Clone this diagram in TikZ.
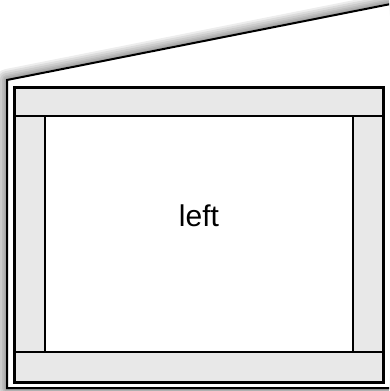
\documentclass[tikz,border=0pt]{standalone}
\usepackage{fontspec}
\setmainfont{Liberation Sans}
\tikzset{
  band/.style={fill=bandgray, draw=black, line width=2.2pt},
  frameline/.style={draw=black, line width=3pt},
  outerline/.style={draw=black, line width=2pt, line join=miter},
  shadowline/.style={draw=black, opacity=0.07, line join=round}
}
\definecolor{bandgray}{HTML}{E8E8E8}
\begin{document}
\begin{tikzpicture}[x=1pt,y=-1pt]
\useasboundingbox (0,0) rectangle (389,391);
\clip (0,0) rectangle (389,391);
% outer polygon points
\coordinate (A) at (7,80);
\coordinate (B) at (423,-2.4);
\coordinate (C) at (7,388);
\coordinate (D) at (420,388);
% shadow
\foreach \w in {22,18,14,10,7,4} {
  \draw[shadowline, line width=\w pt, shift={(-2,-3)}] (B) -- (A) -- (C) -- (D);
}
\fill[white] (B) -- (A) -- (C) -- (D) -- (430,0) -- cycle;
\draw[outerline] (B) -- (A) -- (C) -- (D);
% inner frame
\fill[white] (14,87) rectangle (383,382);
\draw[band] (14,87) rectangle (383,116);
\draw[band] (14,352) rectangle (383,382);
\draw[band] (14,116) rectangle (45,352);
\draw[band] (353,116) rectangle (383,352);
\draw[frameline] (14,87) rectangle (383,382);
\node[font=\fontsize{30}{36}\selectfont, inner sep=0pt] (label) at (199,216) {left};
\end{tikzpicture}
\end{document}
